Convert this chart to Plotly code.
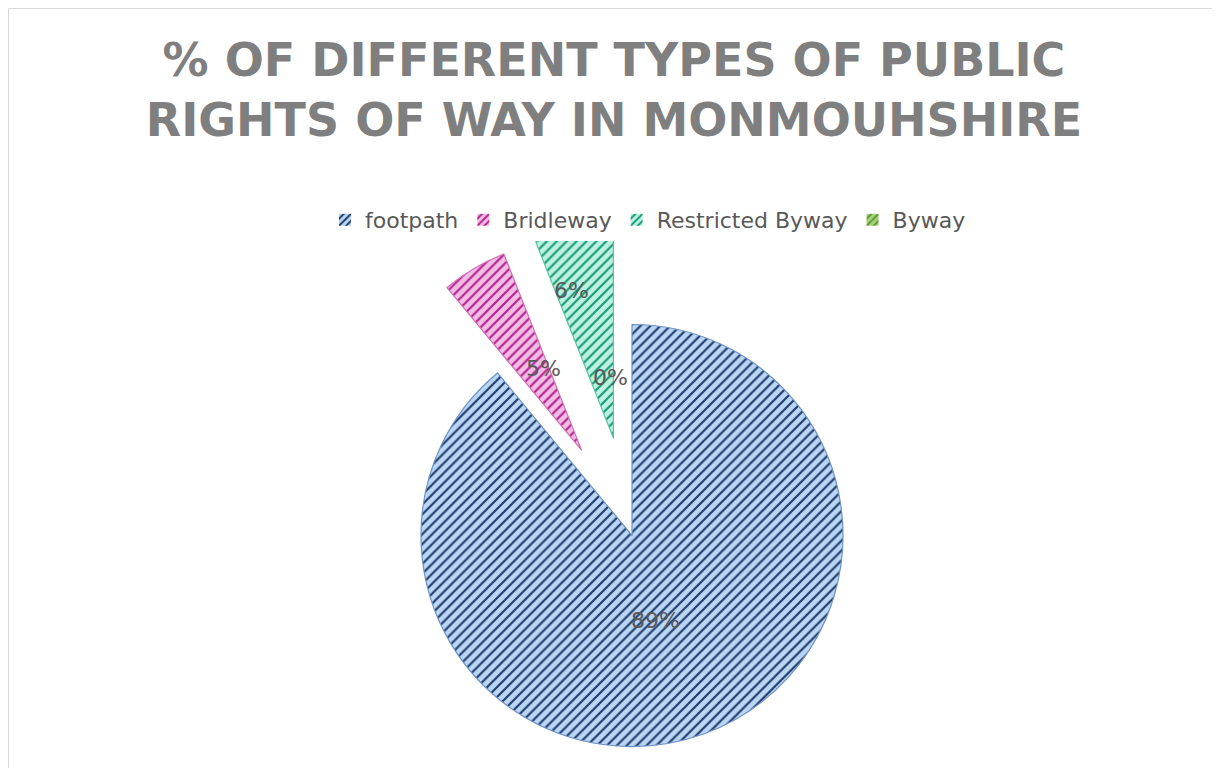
import math
import plotly.graph_objects as go

# the page body adds an 8px margin, so the figure is a bit smaller than the window
W, H = 1204, 760
OFF = 8

# data
labels = ['footpath', 'Bridleway', 'Restricted Byway', 'Byway']
values = [89, 5, 6, 0]
pct_text = ['89%', '5%', '6%', '0%']

# styling
bg_colors = ['#bad6f6', '#f4bbe6', '#bbf2e0', '#a9d27c']
fg_colors = ['#1f3a68', '#b0248c', '#1c9878', '#5e9a34']
edge_colors = ['#6d93c6', '#cf6fb5', '#5cc4a4', '#7ab648']
pulls = [0, 0.47, 0.47, 0]
label_r = [0.5, 0.43, 0.73, 0.76]   # label distance from slice apex (fraction of radius)
label_dx = [-12, 8, -13, -22]
label_dy = [0, -4, 4, 2]

# pie geometry in screen pixels
CX, CY, R = 632 - OFF, 535.5 - OFF, 211

total = sum(values)
cum = 0
angles = []
for v in values:
    angles.append(360 * (cum + v / 2) / total)
    cum += v


def domain_for(cx, cy):
    return dict(x=[(cx - R) / W, (cx + R) / W],
                y=[1 - (cy + R) / H, 1 - (cy - R) / H])


fig = go.Figure()

# legend-only trace (zero size) so the legend gets the real colours
fig.add_trace(go.Pie(
    labels=labels, values=values, sort=False, direction='clockwise',
    textinfo='none', hoverinfo='skip',
    domain=dict(x=[0.5, 0.5001], y=[0.5, 0.5001]),
    marker=dict(colors=bg_colors, line=dict(width=0),
                pattern=dict(shape='/', fgcolor=fg_colors, bgcolor=bg_colors,
                             size=5, solidity=0.4)),
))

apex = []
for i in range(len(labels)):
    th = math.radians(angles[i])
    ax = CX + pulls[i] * R * math.sin(th)
    ay = CY - pulls[i] * R * math.cos(th)
    apex.append((ax, ay))
    if values[i] == 0:
        continue
    cols = ['rgba(0,0,0,0)'] * len(labels)
    shapes = [''] * len(labels)
    fgs = ['rgba(0,0,0,0)'] * len(labels)
    lines = ['rgba(0,0,0,0)'] * len(labels)
    cols[i] = bg_colors[i]
    shapes[i] = '/'
    fgs[i] = fg_colors[i]
    lines[i] = edge_colors[i]
    fig.add_trace(go.Pie(
        labels=labels, values=values, sort=False, direction='clockwise',
        textinfo='none', showlegend=False, name=labels[i],
        domain=domain_for(ax, ay),
        marker=dict(colors=cols, line=dict(width=1.2, color=lines),
                    pattern=dict(shape=shapes, fgcolor=fgs, bgcolor=cols,
                                 size=7, solidity=0.3)),
    ))

# data labels
for i in range(len(labels)):
    th = math.radians(angles[i])
    lx = apex[i][0] + label_r[i] * R * math.sin(th) + label_dx[i]
    ly = apex[i][1] - label_r[i] * R * math.cos(th) + label_dy[i]
    fig.add_annotation(x=lx / W, y=1 - ly / H, xref='paper', yref='paper',
                       text=pct_text[i], showarrow=False,
                       font=dict(family='DejaVu Sans', size=22, color='#595959'))

fig.update_layout(
    width=W, height=H,
    margin=dict(l=0, r=0, t=0, b=0),
    paper_bgcolor='white',
    title=dict(text='% OF DIFFERENT TYPES OF PUBLIC<br>RIGHTS OF WAY IN MONMOUHSHIRE',
               x=(614 - OFF) / W, xanchor='center', y=1 - 68 / H, yanchor='top',
               font=dict(family='DejaVu Sans', size=46, color='#7f7f7f',
                         weight='bold')),
    legend=dict(orientation='h', x=(648 - OFF) / W, xanchor='center',
                y=1 - (220 - OFF) / H, yanchor='middle',
                font=dict(family='DejaVu Sans', size=22, color='#595959')),
    shapes=[dict(type='rect', xref='paper', yref='paper',
                 x0=0.5 / W, x1=1.02, y0=-0.02, y1=1 - 0.5 / H,
                 line=dict(color='#d9d9d9', width=1))],
)

fig.write_html('out.html')
